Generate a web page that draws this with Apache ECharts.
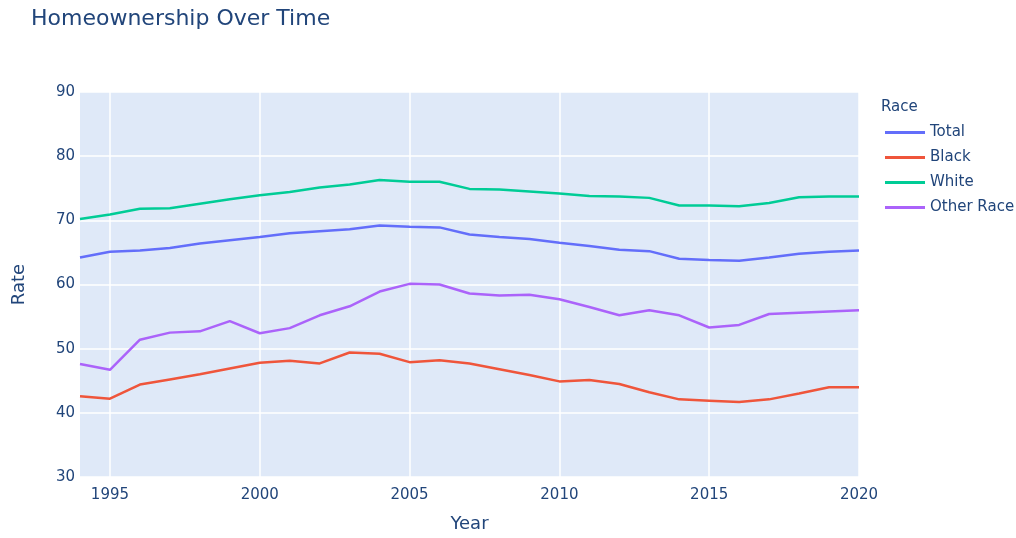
<!DOCTYPE html>
<html>
<head>
<meta charset="utf-8">
<script src="https://cdn.jsdelivr.net/npm/echarts@6/dist/echarts.min.js"></script>
<style>
  html, body { margin: 0; padding: 0; background: #fff; }
  #chart { width: 1016px; height: 538px; }
</style>
</head>
<body>
<div id="chart"></div>
<script>
var years = [1994,1995,1996,1997,1998,1999,2000,2001,2002,2003,2004,2005,2006,2007,2008,2009,2010,2011,2012,2013,2014,2015,2016,2017,2018,2019,2020];
var total = [64.2,65.1,65.3,65.7,66.4,66.9,67.4,68.0,68.3,68.6,69.2,69.0,68.9,67.8,67.4,67.1,66.5,66.0,65.4,65.2,64.0,63.8,63.7,64.2,64.8,65.1,65.3];
var black = [42.6,42.2,44.4,45.2,46.0,46.9,47.8,48.1,47.7,49.4,49.2,47.9,48.2,47.7,46.8,45.9,44.9,45.1,44.5,43.2,42.1,41.9,41.7,42.1,43.0,44.0,44.0];
var white = [70.2,70.9,71.8,71.9,72.6,73.3,73.9,74.4,75.1,75.6,76.3,76.0,76.0,74.9,74.8,74.5,74.2,73.8,73.7,73.5,72.3,72.3,72.2,72.7,73.6,73.7,73.7];
var other = [47.6,46.7,51.4,52.5,52.7,54.3,52.4,53.2,55.2,56.6,58.9,60.1,60.0,58.6,58.3,58.4,57.7,56.5,55.2,56.0,55.2,53.3,53.7,55.4,55.6,55.8,56.0];
var xTicks = [1995,2000,2005,2010,2015,2020];

var seriesNames = ['Total','Black','White','Other Race'];
var seriesData = [total, black, white, other];
var colors = ['#636efa','#ef553b','#00cc96','#ab63fa'];

var textColor = '#21457a';
var fontFam = 'DejaVu Sans, Verdana, sans-serif';

function pairs(vals){
    var out = [];
    for(var i=0;i<years.length;i++){
        out.push([years[i], vals[i]]);
    }
    return out;
}

var series = [];
for(var i=0;i<seriesNames.length;i++){
    series.push({
        name: seriesNames[i],
        type: 'line',
        data: pairs(seriesData[i]),
        showSymbol: false,
        symbol: 'none',
        lineStyle: { width: 2.5, color: colors[i] },
        itemStyle: { color: colors[i] },
        emphasis: { disabled: true }
    });
}

var chart = echarts.init(document.getElementById('chart'));
chart.setOption({
    animation: false,
    backgroundColor: '#fff',
    title: [{
        text: 'Homeownership Over Time',
        left: 26, top: 3,
        textStyle: { color: textColor, fontSize: 22, fontWeight: 'normal', fontFamily: fontFam }
    }, {
        text: 'Race',
        left: 876, top: 95,
        textStyle: { color: textColor, fontSize: 15, fontWeight: 'normal', fontFamily: fontFam }
    }],
    legend: {
        orient: 'vertical',
        left: 880, top: 119,
        itemWidth: 40, itemHeight: 3,
        itemGap: 8,
        icon: 'rect',
        data: seriesNames,
        textStyle: { color: textColor, fontSize: 15, fontFamily: fontFam, lineHeight: 17 }
    },
    grid: { left: 80, right: 157, top: 92, bottom: 57, containLabel: false,
            show: true, backgroundColor: '#dfe9f8', borderWidth: 0 },
    xAxis: {
        type: 'value',
        min: 1994, max: 2020,
        name: 'Year', nameLocation: 'middle', nameGap: 38,
        nameTextStyle: { color: textColor, fontSize: 18, fontFamily: fontFam },
        axisLine: { show: false },
        axisTick: { show: false, customValues: xTicks },
        axisLabel: { customValues: xTicks, color: textColor, fontSize: 15, fontFamily: fontFam, margin: 11,
                     formatter: function(v){ return String(v); } },
        splitLine: { show: true, lineStyle: { color: '#ffffff', width: 1.5 } }
    },
    yAxis: {
        type: 'value',
        min: 30, max: 90, interval: 10,
        name: 'Rate', nameLocation: 'middle', nameGap: 52,
        nameTextStyle: { color: textColor, fontSize: 18, fontFamily: fontFam },
        axisLine: { show: false },
        axisTick: { show: false },
        axisLabel: { color: textColor, fontSize: 15, fontFamily: fontFam, margin: 5 },
        splitLine: { show: true, lineStyle: { color: '#ffffff', width: 1.5 } }
    },
    series: series
});
</script>
</body>
</html>
